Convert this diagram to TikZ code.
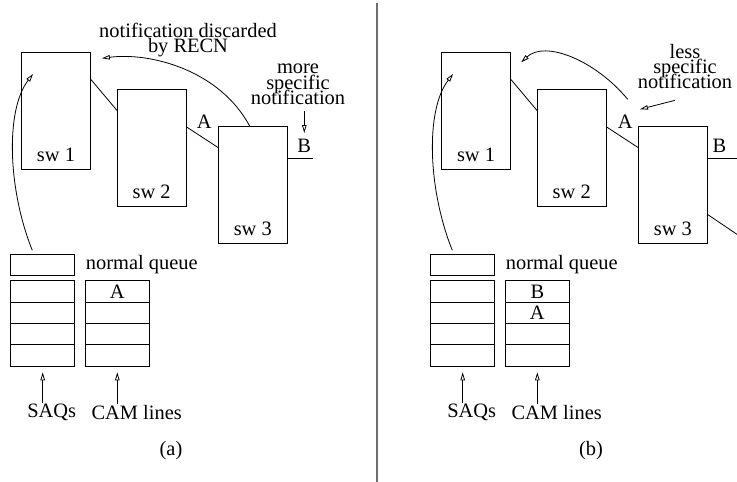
\documentclass[tikz,border=0pt]{standalone}
\usepackage{fontspec}
\setmainfont{Liberation Serif}
\usetikzlibrary{arrows.meta,positioning}
\definecolor{figline}{RGB}{0,0,0}
\definecolor{figsep}{RGB}{110,110,110}
\tikzset{
  sw/.style   ={draw=figline, line width=0.9bp, minimum width=69bp, minimum height=117bp, inner sep=0pt, outer sep=0pt},
  qbox/.style ={draw=figline, line width=0.9bp, minimum width=64bp, minimum height=21.4bp, inner sep=0pt, outer sep=0pt, font=\fontsize{20.5}{15}\selectfont},
  lnk/.style  ={draw=figline, line width=0.8bp},
  lab/.style  ={font=\fontsize{20.5}{15}\selectfont, inner sep=1bp},
  labm/.style ={font={\fontsize{20.5}{15.5}\selectfont\lineskiplimit=-20pt}, align=center, inner sep=0pt},
  ptr/.style  ={draw=figline, line width=0.8bp, -{Triangle[open,length=8bp,width=4.5bp]}},
  sepl/.style ={draw=figsep, line width=1.4bp},
}
\begin{document}
\begin{tikzpicture}[x=1bp,y=-1bp]
  \useasboundingbox (0,0) rectangle (737,482);
  % (a)
  \node[sw] (sw1a) at (56,110.8) {};
  \node[sw] (sw2a) at (151.7,147.8) {};
  \node[sw] (sw3a) at (252.8,185.2) {};
  \node[lab,anchor=base] (t1a) at ([yshift=7.5bp]sw1a.south) {sw 1};
  \node[lab,anchor=base] (t2a) at ([yshift=8bp]sw2a.south) {sw 2};
  \node[lab,anchor=base] (t3a) at ([yshift=8.5bp]sw3a.south) {sw 3};
  \draw[lnk] ([yshift=31.8bp]sw1a.east) -- ([yshift=37.1bp]sw2a.west);
  \draw[lnk] ([yshift=21.1bp]sw2a.east) -- node[lab,above=7bp,xshift=2bp] (Aa) {A} ([yshift=37.5bp]sw3a.west);
  \coordinate (pa) at ([xshift=26bp,yshift=26.9bp]sw3a.east);
  \draw[lnk] ([yshift=26.9bp]sw3a.east) -- node[lab,above=4bp,xshift=4bp] (Ba) {B} (pa);
  \node[labm] (nda) at (188,39.8) {notification discarded\\by RECN};
  \node[labm] (msa) at (298,84.3) {more\\specific\\notification};
  \coordinate (msta) at ([yshift=-6bp]msa.south);
  \draw[ptr] (msta -| Ba.north) -- ([yshift=5bp]Ba.north);
  \coordinate (fba) at ([xshift=-2.8bp]sw3a.north);
  \coordinate (dra) at ([xshift=11.4bp,yshift=-6bp]sw1a.north east);
  \draw[ptr] (fba) .. controls (220,70) and (150,52) .. (dra);
  \node[qbox,minimum height=21bp] (nqa) at (42.7,264.8) {};
  \node[lab,right=10bp of nqa] (nqla) {normal queue};
  \node[qbox] (saq1a) at (42.7,291.4) {};
  \node[qbox,below=0pt of saq1a] (saq2a) {};
  \node[qbox,below=0pt of saq2a] (saq3a) {};
  \node[qbox,below=0pt of saq3a] (saq4a) {};
  \node[qbox] (cam1a) at (117.3,291.4) {A};
  \node[qbox,below=0pt of cam1a] (cam2a) {};
  \node[qbox,below=0pt of cam2a] (cam3a) {};
  \node[qbox,below=0pt of cam3a] (cam4a) {};
  \coordinate (qsa) at ([xshift=-10.4bp,yshift=4bp]nqa.north);
  \coordinate (ina) at ([xshift=11.6bp,yshift=-21.7bp]sw1a.north west);
  \draw[ptr] (qsa) .. controls (8,190) and (5,110) .. (ina);
  \node[lab] (saqsa) at (51.7,412.7) {SAQs};
  \node[lab] (camla) at (136.7,412.2) {CAM lines};
  \draw[ptr] (saqsa.north -| saq4a.south) -- ([yshift=-6bp]saq4a.south);
  \draw[ptr] (camla.north -| cam4a.south) -- ([yshift=-6bp]cam4a.south);
  \node[lab] (capa) at (171,450.7) {(a)};

  \draw[sepl] (377,3) -- (377,482);

  % (b)
  \begin{scope}[xshift=420bp]
  \node[sw] (sw1b) at (56,110.8) {};
  \node[sw] (sw2b) at (151.7,147.8) {};
  \node[sw] (sw3b) at (252.8,185.2) {};
  \node[lab,anchor=base] (t1b) at ([yshift=7.5bp]sw1b.south) {sw 1};
  \node[lab,anchor=base] (t2b) at ([yshift=8bp]sw2b.south) {sw 2};
  \node[lab,anchor=base] (t3b) at ([yshift=8.5bp]sw3b.south) {sw 3};
  \draw[lnk] ([yshift=31.8bp]sw1b.east) -- ([yshift=37.1bp]sw2b.west);
  \draw[lnk] ([yshift=21.1bp]sw2b.east) -- node[lab,above=7bp,xshift=3bp] (Ab) {A} ([yshift=37.5bp]sw3b.west);
  \coordinate (pb) at ([xshift=40bp,yshift=26.9bp]sw3b.east);
  \draw[lnk] ([yshift=26.9bp]sw3b.east) -- node[lab,above=4bp,pos=0.3] (Bb) {B} (pb);
  \coordinate (qb) at ([xshift=40bp,yshift=-56.1bp]sw3b.east);
  \draw[lnk] ([yshift=-29.1bp]sw3b.east) -- (qb);
  \node[labm] (lsb) at (265,66.5) {less\\specific\\notification};
  \coordinate (lstb) at ([xshift=-10bp,yshift=-11bp]lsb.south);
  \coordinate (tipb) at (220,109.3);
  \draw[ptr] (lstb) -- (tipb);
  \coordinate (srcb) at (207.7,99.3);
  \coordinate (drb) at ([xshift=10.7bp,yshift=-10bp]sw1b.north east);
  \draw[ptr] (srcb) .. controls (175,60) and (125,40) .. (drb);
  \node[qbox,minimum height=21bp] (nqb) at (42.7,264.8) {};
  \node[lab,right=10bp of nqb] (nqlb) {normal queue};
  \node[qbox] (saq1b) at (42.7,291.4) {};
  \node[qbox,below=0pt of saq1b] (saq2b) {};
  \node[qbox,below=0pt of saq2b] (saq3b) {};
  \node[qbox,below=0pt of saq3b] (saq4b) {};
  \node[qbox] (cam1b) at (117.3,291.4) {B};
  \node[qbox,below=0pt of cam1b] (cam2b) {A};
  \node[qbox,below=0pt of cam2b] (cam3b) {};
  \node[qbox,below=0pt of cam3b] (cam4b) {};
  \coordinate (qsb) at ([xshift=-10.4bp,yshift=4bp]nqb.north);
  \coordinate (inb) at ([xshift=11.6bp,yshift=-21.7bp]sw1b.north west);
  \draw[ptr] (qsb) .. controls (8,190) and (5,110) .. (inb);
  \node[lab] (saqsb) at (51.7,412.7) {SAQs};
  \node[lab] (camlb) at (136.7,412.2) {CAM lines};
  \draw[ptr] (saqsb.north -| saq4b.south) -- ([yshift=-6bp]saq4b.south);
  \draw[ptr] (camlb.north -| cam4b.south) -- ([yshift=-6bp]cam4b.south);
  \node[lab] (capb) at (171,450.7) {(b)};
  \end{scope}
\end{tikzpicture}
\end{document}
